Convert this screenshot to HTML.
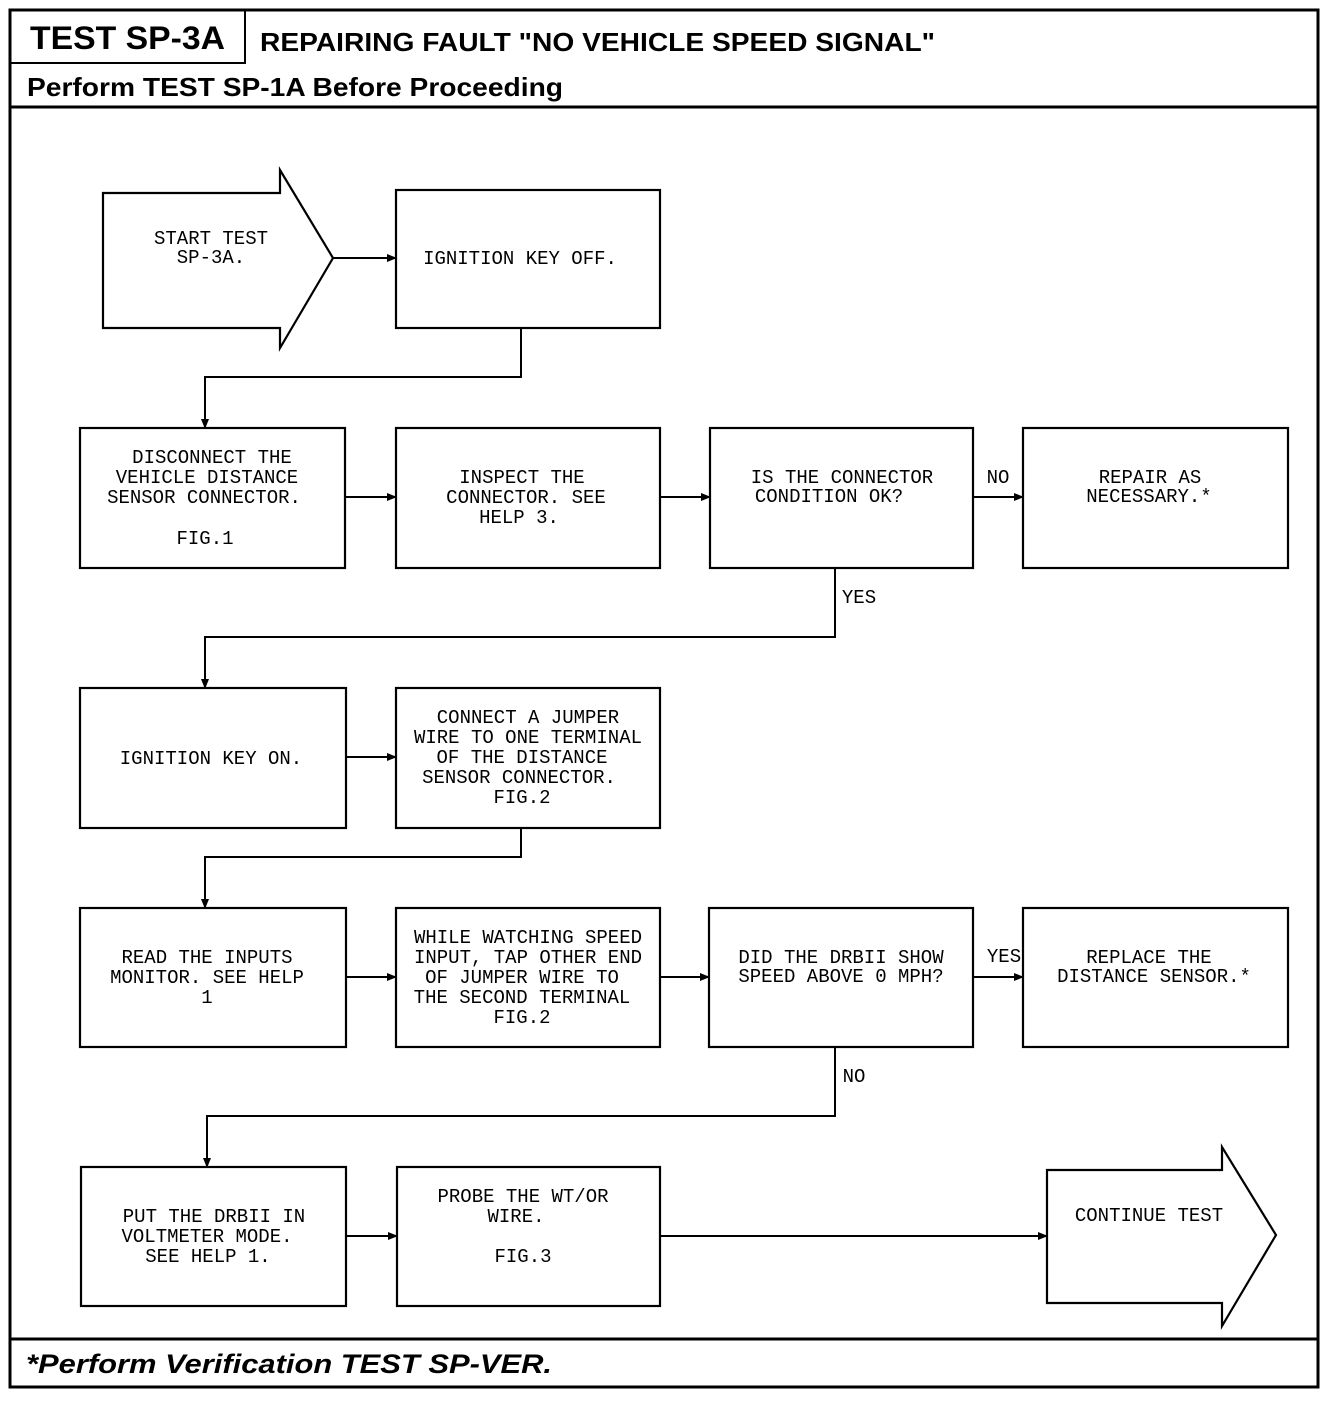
<!DOCTYPE html>
<html><head><meta charset="utf-8"><style>
html,body{margin:0;padding:0;background:#fff;}
svg{display:block;}
.t{font-family:"Liberation Mono",monospace;font-size:19px;fill:#000;text-anchor:middle;}
.h{font-family:"Liberation Sans",sans-serif;font-weight:bold;fill:#000;}
</style></head><body>
<svg width="1344" height="1408" viewBox="0 0 1344 1408" xmlns="http://www.w3.org/2000/svg">
<defs><marker id="a" markerWidth="10" markerHeight="8" refX="9" refY="4" orient="auto" markerUnits="userSpaceOnUse"><path d="M0,0 L10,4 L0,8 z" fill="#000"/></marker></defs>
<g fill="none" stroke="#000">
<rect x="10" y="10" width="1308" height="1377" stroke-width="3"/>
<line x1="10" y1="107" x2="1318" y2="107" stroke-width="3"/>
<polyline points="10,63 245,63 245,10" stroke-width="2"/>
<line x1="10" y1="1339" x2="1318" y2="1339" stroke-width="3"/>
<g stroke-width="2.2">
<polygon points="103,193 280,193 280,170 333,258 280,348 280,328 103,328"/>
<rect x="396" y="190" width="264" height="138"/>
<rect x="80" y="428" width="265" height="140"/>
<rect x="396" y="428" width="264" height="140"/>
<rect x="710" y="428" width="263" height="140"/>
<rect x="1023" y="428" width="265" height="140"/>
<rect x="80" y="688" width="266" height="140"/>
<rect x="396" y="688" width="264" height="140"/>
<rect x="80" y="908" width="266" height="139"/>
<rect x="396" y="908" width="264" height="139"/>
<rect x="709" y="908" width="264" height="139"/>
<rect x="1023" y="908" width="265" height="139"/>
<rect x="81" y="1167" width="265" height="139"/>
<rect x="397" y="1167" width="263" height="139"/>
<polygon points="1047,1170 1222,1170 1222,1147 1276,1235 1222,1326 1222,1303 1047,1303"/>
</g>
<g stroke-width="2" marker-end="url(#a)">
<line x1="333" y1="258" x2="396" y2="258"/>
<polyline points="521,328 521,377 205,377 205,428"/>
<line x1="345" y1="497" x2="396" y2="497"/>
<line x1="660" y1="497" x2="710" y2="497"/>
<line x1="973" y1="497" x2="1023" y2="497"/>
<polyline points="835,568 835,637 205,637 205,688"/>
<line x1="346" y1="757" x2="396" y2="757"/>
<polyline points="521,828 521,857 205,857 205,908"/>
<line x1="346" y1="977" x2="396" y2="977"/>
<line x1="660" y1="977" x2="709" y2="977"/>
<line x1="973" y1="977" x2="1023" y2="977"/>
<polyline points="835,1047 835,1116 207,1116 207,1167"/>
<line x1="346" y1="1236" x2="397" y2="1236"/>
<line x1="660" y1="1236" x2="1047" y2="1236"/>
</g>
</g>
<text class="h" x="30" y="49" font-size="32" textLength="195" lengthAdjust="spacingAndGlyphs">TEST SP-3A</text>
<text class="h" x="260" y="51" font-size="26" textLength="675" lengthAdjust="spacingAndGlyphs">REPAIRING FAULT "NO VEHICLE SPEED SIGNAL"</text>
<text class="h" x="27" y="96" font-size="26" textLength="536" lengthAdjust="spacingAndGlyphs">Perform TEST SP-1A Before Proceeding</text>
<text class="h" x="26" y="1373" font-size="27" font-style="italic" textLength="526" lengthAdjust="spacingAndGlyphs">*Perform Verification TEST SP-VER.</text>
<g class="t">
<text x="211" y="244">START TEST</text><text x="211" y="263">SP-3A.</text>
<text x="520" y="264">IGNITION KEY OFF.</text>
<text x="212" y="463">DISCONNECT THE</text><text x="207" y="483">VEHICLE DISTANCE</text><text x="204" y="503">SENSOR CONNECTOR.</text><text x="205" y="544">FIG.1</text>
<text x="522" y="483">INSPECT THE</text><text x="526" y="503">CONNECTOR. SEE</text><text x="519" y="523">HELP 3.</text>
<text x="842" y="483">IS THE CONNECTOR</text><text x="829" y="502">CONDITION OK?</text>
<text x="1150" y="483">REPAIR AS</text><text x="1149" y="502">NECESSARY.*</text>
<text x="998" y="483">NO</text>
<text x="859" y="603">YES</text>
<text x="211" y="764">IGNITION KEY ON.</text>
<text x="528" y="723">CONNECT A JUMPER</text><text x="528" y="743">WIRE TO ONE TERMINAL</text><text x="522" y="763">OF THE DISTANCE</text><text x="519" y="783">SENSOR CONNECTOR.</text><text x="522" y="803">FIG.2</text>
<text x="207" y="963">READ THE INPUTS</text><text x="207" y="983">MONITOR. SEE HELP</text><text x="207" y="1003">1</text>
<text x="528" y="943">WHILE WATCHING SPEED</text><text x="528" y="963">INPUT, TAP OTHER END</text><text x="522" y="983">OF JUMPER WIRE TO</text><text x="522" y="1003">THE SECOND TERMINAL</text><text x="522" y="1023">FIG.2</text>
<text x="841" y="963">DID THE DRBII SHOW</text><text x="841" y="982">SPEED ABOVE 0 MPH?</text>
<text x="1004" y="962">YES</text>
<text x="1149" y="963">REPLACE THE</text><text x="1154" y="982">DISTANCE SENSOR.*</text>
<text x="854" y="1082">NO</text>
<text x="214" y="1222">PUT THE DRBII IN</text><text x="207" y="1242">VOLTMETER MODE.</text><text x="208" y="1262">SEE HELP 1.</text>
<text x="523" y="1202">PROBE THE WT/OR</text><text x="516" y="1222">WIRE.</text><text x="523" y="1262">FIG.3</text>
<text x="1149" y="1221">CONTINUE TEST</text>
</g>
</svg>
</body></html>
